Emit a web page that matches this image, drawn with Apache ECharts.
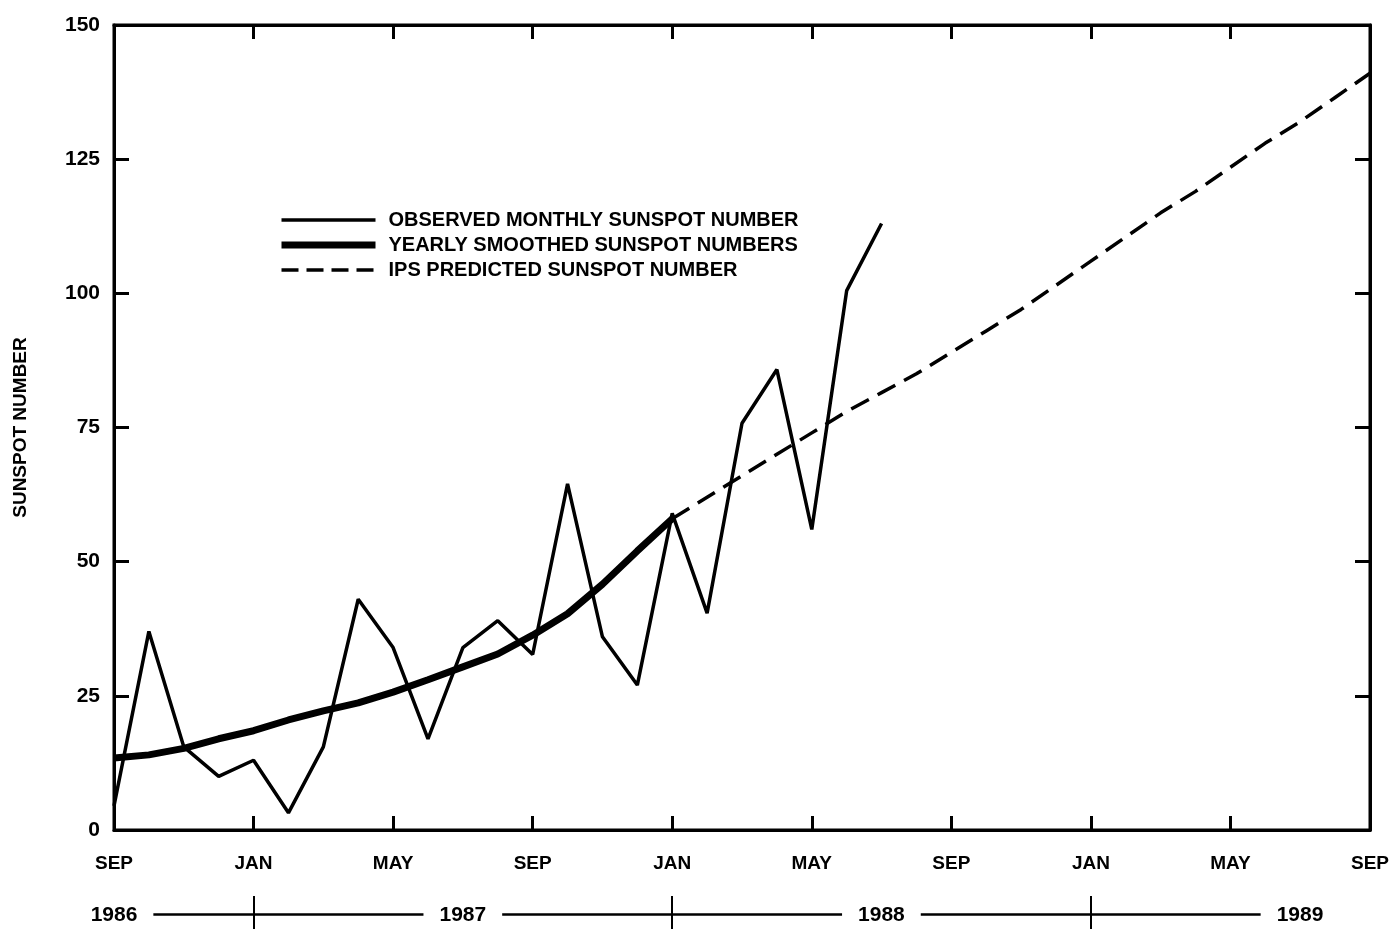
<!DOCTYPE html>
<html><head><meta charset="utf-8">
<script src="https://cdn.jsdelivr.net/npm/echarts@6/dist/echarts.min.js"></script>
<style>html,body{margin:0;padding:0;background:#fff}#c{width:1390px;height:929px}</style>
</head><body><div id="c"></div>
<script>
// Month categories: SEP 1986 .. SEP 1989
const months = ['SEP','OCT','NOV','DEC','JAN','FEB','MAR','APR','MAY','JUN','JUL','AUG',
  'SEP','OCT','NOV','DEC','JAN','FEB','MAR','APR','MAY','JUN','JUL','AUG',
  'SEP','OCT','NOV','DEC','JAN','FEB','MAR','APR','MAY','JUN','JUL','AUG','SEP'];
// Observed monthly sunspot number, SEP 1986 .. JUL 1988
const observed = [4.5,37,15.5,10,13,3.2,15.5,43,34,17,34,39,32.7,64.5,36,27,59,40.4,75.8,85.8,56,100.5,113];
// Yearly smoothed sunspot numbers, SEP 1986 .. JAN 1988
const smoothed = [13.4,14,15.2,17,18.5,20.5,22.2,23.7,25.7,28,30.4,32.8,36.3,40.3,45.8,52,58];
// IPS predicted sunspot number, JAN 1988 .. SEP 1989 ([month index, value])
const predicted = [[16,58],[17,62],[18,66],[19,70],[20,74],[21,78],[22,81.5],[23,85],[24,89],
  [25,93],[26,97],[27,101.5],[28,106],[29,110.5],[30,115],[31,119],[32,123.5],[33,128],
  [34,132],[35,136.5],[36,141]];
const yMin = 0, yMax = 150, yStep = 25;
// Year row
const yearNames = ['1986','1987','1988','1989'];
const yearLabelIdx = [0,10,22,34];
const yearTickIdx = [4,16,28];
const yearCats = months.slice(0,35);

const FONT = '"Liberation Sans", Arial, sans-serif';
const chart = echarts.init(document.getElementById('c'));
chart.setOption({
  backgroundColor:'#fff',
  animation:false,
  legend:{
    orient:'vertical', left:273, top:205, itemWidth:94, itemHeight:14, itemGap:5,
    itemStyle:{opacity:0},
    textStyle:{fontFamily:FONT, fontSize:20, fontWeight:'bold', color:'#000', padding:[0,0,0,8]},
    data:[
      {name:'OBSERVED MONTHLY SUNSPOT NUMBER', lineStyle:{width:3.5}},
      {name:'YEARLY SMOOTHED SUNSPOT NUMBERS', lineStyle:{width:7}},
      {name:'IPS PREDICTED SUNSPOT NUMBER', lineStyle:{width:3.5, type:[17,8]}}
    ]
  },
  grid:[
    {left:114, right:20, top:25, bottom:99, show:true, borderColor:'#000', borderWidth:3,
     backgroundColor:'transparent', outerBoundsMode:'none'},
    {left:114, right:90, top:896, height:36, outerBoundsMode:'none'},
    {left:114, right:90, top:928, height:1, outerBoundsMode:'none'}
  ],
  xAxis:[
    {type:'category', gridIndex:0, data:months, boundaryGap:false, position:'bottom',
     axisLine:{show:true, onZero:false, lineStyle:{color:'#000', width:3}},
     axisTick:{show:true, inside:true, length:14, interval:3, lineStyle:{color:'#000', width:3}},
     axisLabel:{interval:3, margin:24, fontFamily:FONT, fontSize:19, fontWeight:'bold', color:'#000'},
     splitLine:{show:false}},
    {type:'category', gridIndex:0, data:months, boundaryGap:false, position:'top',
     axisLine:{show:true, onZero:false, lineStyle:{color:'#000', width:3}},
     axisTick:{show:true, inside:true, length:14, interval:3, lineStyle:{color:'#000', width:3}},
     axisLabel:{show:false}, splitLine:{show:false}},
    {type:'category', gridIndex:1, data:yearCats, boundaryGap:false,
     axisLine:{show:true, onZero:true, lineStyle:{color:'#000', width:2.5}},
     axisTick:{show:false}, axisLabel:{show:false},
     splitLine:{show:true, interval:function(i){return yearTickIdx.indexOf(i)>=0;}, lineStyle:{color:'#000', width:2}}},
    {type:'category', gridIndex:2, data:yearCats, boundaryGap:false, position:'top', z:5,
     axisLine:{show:false}, axisTick:{show:false}, splitLine:{show:false},
     axisLabel:{show:true, interval:function(i){return yearLabelIdx.indexOf(i)>=0;},
       formatter:function(v,i){const k=yearLabelIdx.indexOf(i); return k>=0?yearNames[k]:'';},
       margin:0, backgroundColor:'#fff', padding:[2,16,2,16],
       fontFamily:FONT, fontSize:21, fontWeight:'bold', color:'#000'}}
  ],
  yAxis:[
    {type:'value', gridIndex:0, min:yMin, max:yMax, interval:yStep, position:'left',
     name:'SUNSPOT NUMBER', nameLocation:'middle', nameGap:84,
     nameTextStyle:{fontFamily:FONT, fontSize:19, fontWeight:'bold', color:'#000'},
     axisLine:{show:true, lineStyle:{color:'#000', width:3}},
     axisTick:{show:true, inside:true, length:15, lineStyle:{color:'#000', width:3}},
     axisLabel:{margin:14, fontFamily:FONT, fontSize:21, fontWeight:'bold', color:'#000'},
     splitLine:{show:false}},
    {type:'value', gridIndex:0, min:yMin, max:yMax, interval:yStep, position:'right',
     axisLine:{show:true, lineStyle:{color:'#000', width:3}},
     axisTick:{show:true, inside:true, length:15, lineStyle:{color:'#000', width:3}},
     axisLabel:{show:false}, splitLine:{show:false}},
    {type:'value', gridIndex:1, min:-1, max:1, show:false},
    {type:'value', gridIndex:2, min:-1, max:1, show:false}
  ],
  series:[
    {name:'OBSERVED MONTHLY SUNSPOT NUMBER', type:'line', xAxisIndex:0, yAxisIndex:0, data:observed,
     symbol:'none', lineStyle:{color:'#000', width:3.5}, itemStyle:{color:'#000'}},
    {name:'YEARLY SMOOTHED SUNSPOT NUMBERS', type:'line', xAxisIndex:0, yAxisIndex:0, data:smoothed,
     symbol:'none', lineStyle:{color:'#000', width:7}, itemStyle:{color:'#000'}},
    {name:'IPS PREDICTED SUNSPOT NUMBER', type:'line', xAxisIndex:0, yAxisIndex:0, data:predicted,
     symbol:'none', lineStyle:{color:'#000', width:3.5, type:[20,10]}, itemStyle:{color:'#000'}}
  ]
});
</script></body></html>
